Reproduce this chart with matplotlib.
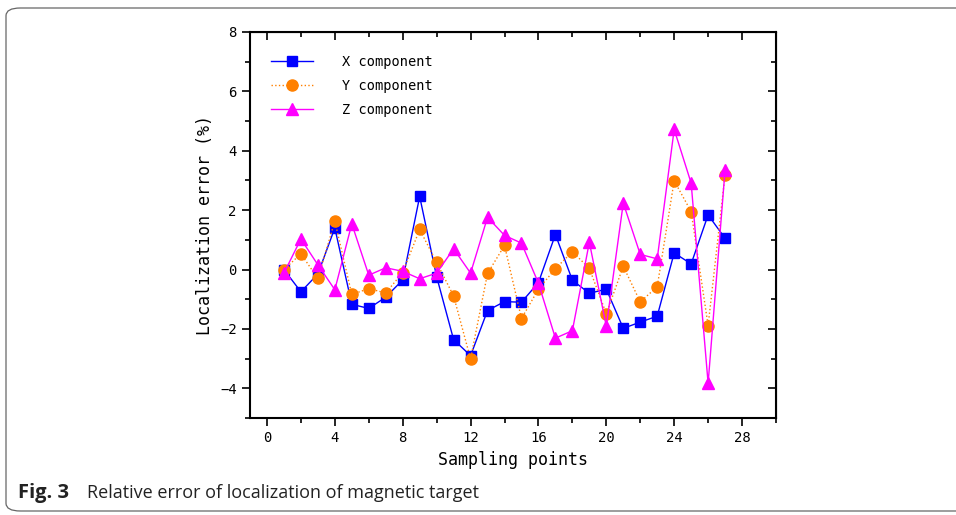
import matplotlib.pyplot as plt
from matplotlib.patches import FancyBboxPatch
from matplotlib.ticker import MultipleLocator

points = list(range(1, 28))
x_err = [0.0, -0.75, -0.15, 1.4, -1.17, -1.31, -0.93, -0.35, 2.46, -0.24,
         -2.36, -2.9, -1.38, -1.08, -1.1, -0.44, 1.18, -0.36, -0.8, -0.66,
         -1.98, -1.77, -1.57, 0.56, 0.19, 1.84, 1.05]
y_err = [0.0, 0.53, -0.3, 1.63, -0.84, -0.64, -0.79, -0.1, 1.35, 0.24,
         -0.89, -3.01, -0.13, 0.81, -1.65, -0.66, 0.03, 0.6, 0.04, -1.49,
         0.11, -1.09, -0.58, 2.99, 1.95, -1.89, 3.2]
z_err = [-0.12, 1.03, 0.16, -0.68, 1.54, -0.19, 0.06, -0.06, -0.31, -0.12,
         0.7, -0.12, 1.76, 1.15, 0.89, -0.46, -2.31, -2.06, 0.92, -1.91,
         2.24, 0.51, 0.36, 4.72, 2.91, -3.83, 3.36]

mono = 'DejaVu Sans Mono'

fig = plt.figure(figsize=(9.56, 5.15), dpi=100)
ax = fig.add_axes([0.2615, 0.1883, 0.5502, 0.7496])

ax.plot(points, x_err, color='#0000ff', lw=1, marker='s', ms=7,
        label='X component')
ax.plot(points, y_err, color='#ff8000', lw=1, ls=':', marker='o', ms=8,
        label='Y component')
ax.plot(points, z_err, color='#ff00ff', lw=1, marker='^', ms=9,
        label='Z component')

ax.set_xlim(-1, 30)
ax.set_ylim(-5, 8)
ax.xaxis.set_major_locator(MultipleLocator(4))
ax.xaxis.set_minor_locator(MultipleLocator(2))
ax.yaxis.set_major_locator(MultipleLocator(2))
ax.yaxis.set_minor_locator(MultipleLocator(1))
ax.set_xticks([0, 4, 8, 12, 16, 20, 24, 28])
ax.set_yticks([-4, -2, 0, 2, 4, 6, 8])

for s in ax.spines.values():
    s.set_linewidth(1.5)
ax.tick_params(which='both', direction='out', width=1.2, labelsize=10,
               bottom=True, left=True)
ax.tick_params(which='major', length=6)
ax.tick_params(which='minor', length=3.5)
for lab in ax.get_xticklabels() + ax.get_yticklabels():
    lab.set_fontfamily(mono)

# mirrored ticks pointing in on top and right
ax_top = ax.secondary_xaxis('top')
ax_top.set_xticks([0, 4, 8, 12, 16, 20, 24, 28])
ax_top.xaxis.set_minor_locator(MultipleLocator(2))
ax_top.tick_params(which='both', direction='in', width=1.2, labeltop=False)
ax_top.tick_params(which='major', length=6)
ax_top.tick_params(which='minor', length=3.5)
ax_right = ax.secondary_yaxis('right')
ax_right.set_yticks([-4, -2, 0, 2, 4, 6, 8])
ax_right.yaxis.set_minor_locator(MultipleLocator(1))
ax_right.tick_params(which='both', direction='in', width=1.2, labelright=False)
ax_right.tick_params(which='major', length=6)
ax_right.tick_params(which='minor', length=3.5)

ax.set_xlabel('Sampling points', family=mono, fontsize=12)
ax.set_ylabel('Localization error (%)', family=mono, fontsize=12)

ax.legend(loc='upper left', bbox_to_anchor=(0.04, 0.94), frameon=False,
          prop={'family': mono, 'size': 9.8}, handlelength=3.1,
          handletextpad=2.1, borderaxespad=0, borderpad=0, labelspacing=0.72)

# caption frame
frame = FancyBboxPatch((6 / 956, 4 / 515), 1.2, 503 / 515,
                       boxstyle='round,pad=0,rounding_size=0.015',
                       transform=fig.transFigure, fill=False,
                       edgecolor='#666666', lw=0.9, clip_on=False)
fig.patches.append(frame)
fig.text(18 / 956, 22 / 515, 'Fig. 3', family='Open Sans', weight='bold',
         fontsize=14.5, va='center', color='#222222')
fig.text(87 / 956, 22 / 515, 'Relative error of localization of magnetic target',
         family='Open Sans', fontsize=13, va='center', color='#222222')

fig.savefig('out.png', dpi=100)
